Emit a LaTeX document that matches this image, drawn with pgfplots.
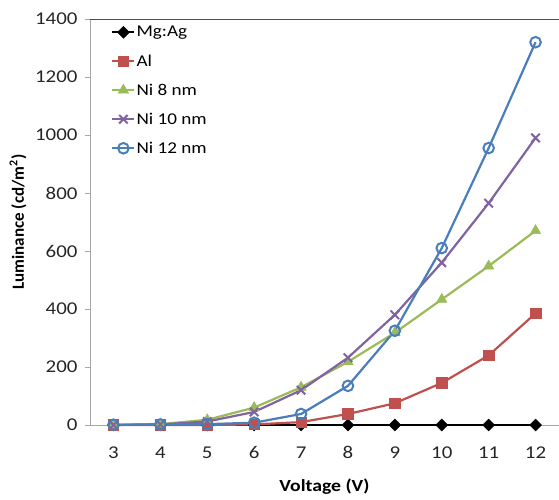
\documentclass[border=0pt]{standalone}
\usepackage{pgfplots}
\pgfplotsset{compat=1.18}
\usepackage{fontspec}
\setmainfont[FakeStretch=1.16]{Carlito}
\newfontfamily\ylabfont{Carlito}
\definecolor{cMg}{RGB}{0,0,0}
\definecolor{cAl}{RGB}{192,80,77}
\definecolor{cNiA}{RGB}{155,187,89}
\definecolor{cNiB}{RGB}{128,100,162}
\definecolor{cNiC}{RGB}{74,126,187}
\begin{document}
\begin{tikzpicture}
\useasboundingbox (-90pt,-74pt) rectangle (469pt,425pt);
\begin{axis}[
  width=469pt, height=406pt, scale only axis,
  xmin=2.5, xmax=12.5, ymin=0, ymax=1400,
  xtick={3,4,5,6,7,8,9,10,11,12},
  ytick={0,200,400,600,800,1000,1200,1400},
  axis x line*=bottom, axis y line*=left,
  axis line style={-, draw=gray!70, line width=0.8pt},
  tick align=outside, major tick length=5pt,
  ytick style={draw=gray!70, line width=0.8pt},
  xtick style={draw=none},
  /pgf/number format/assume math mode=true,
  /pgf/number format/1000 sep={},
  tick label style={font=\fontsize{18}{20}\selectfont, text=black!85},
  yticklabel style={xshift=-4pt},
  xticklabel style={yshift=-13pt},
  xlabel={\textbf{Voltage (V)}},
  ylabel={\ylabfont\bfseries Luminance (cd/m\textsuperscript{2})},
  label style={font=\fontsize{17}{19}\selectfont},
  xlabel style={at={(axis description cs:0.5,-0.1527)}, anchor=center},
  ylabel style={at={(axis description cs:-0.1535,0.5)}, anchor=center},
  clip=false,
  legend style={draw=none, fill=none, at={(0.045,0.985)}, anchor=north west,
    font=\fontsize{16.5}{18}\selectfont, row sep=14.2pt, inner sep=0pt,
    nodes={inner sep=1pt}},
  legend cell align=left,
  legend image code/.code={\draw[mark repeat=2,mark phase=2,#1] plot coordinates {(0pt,0pt)(11pt,0pt)(22pt,0pt)};},
  every axis plot/.append style={line width=2.2pt},
]
\draw[gray!60!black, line width=1pt] (rel axis cs:0,1) -- (rel axis cs:1,1);
\addplot[color=cMg, mark=square*, mark size=4.2pt, mark options={rotate=45, line width=0.5pt}]
  coordinates {(3,0)(4,0)(5,0)(6,0)(7,0)(8,0)(9,0)(10,0)(11,0)(12,0)};
\addlegendentry{Mg:Ag}
\addplot[color=cAl, mark=square*, mark size=5.3pt, mark options={line width=0.5pt}]
  coordinates {(3,0)(4,0)(5,0)(6,2)(7,10)(8,38)(9,75)(10,145)(11,240)(12,385)};
\addlegendentry{Al}
\addplot[color=cNiA, mark=triangle*, mark size=6pt, mark options={line width=0.5pt}]
  coordinates {(3,0)(4,3)(5,18)(6,60)(7,130)(8,218)(9,318)(10,433)(11,548)(12,670)};
\addlegendentry{Ni 8 nm}
\addplot[color=cNiB, mark=x, mark size=6pt, mark options={line width=2pt}]
  coordinates {(3,0)(4,2)(5,12)(6,45)(7,120)(8,232)(9,380)(10,560)(11,765)(12,990)};
\addlegendentry{Ni 10 nm}
\addplot[color=cNiC, mark=o, mark size=5.3pt, mark options={fill=white, line width=2pt}]
  coordinates {(3,1)(4,2)(5,3)(6,8)(7,38)(8,135)(9,325)(10,610)(11,955)(12,1320)};
\addlegendentry{Ni 12 nm}
\end{axis}
\end{tikzpicture}
\end{document}
